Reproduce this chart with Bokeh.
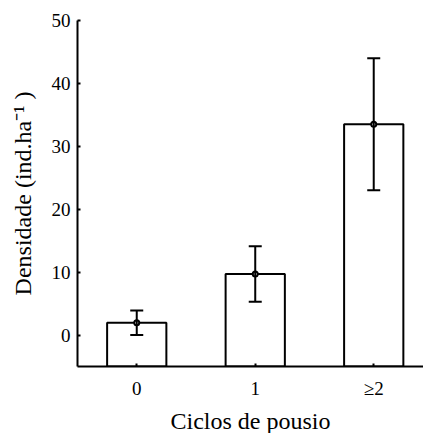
from bokeh.plotting import figure
from bokeh.models import Range1d, FixedTicker, Whisker, ColumnDataSource, TeeHead
from bokeh.embed import file_html
from bokeh.resources import INLINE

categories = ["0", "1", "≥2"]
means = [1.95, 9.7, 33.5]
errors = [1.95, 4.4, 10.5]
y_ticks = [0, 10, 20, 30, 40, 50]

xs = list(range(1, len(categories) + 1))
src = ColumnDataSource(dict(
    x=xs, top=means,
    upper=[m + e for m, e in zip(means, errors)],
    lower=[m - e for m, e in zip(means, errors)],
))

FONT = "Liberation Serif"

p = figure(frame_width=346, frame_height=346, output_backend="svg", toolbar_location=None,
           x_range=Range1d(0.5, 3.42), y_range=Range1d(-5, 50),
           min_border_left=77, min_border_right=0, min_border_top=20, min_border_bottom=60)
p.outline_line_color = None
p.grid.visible = False
p.background_fill_color = "white"

p.vbar(x="x", top="top", bottom=-5, width=0.5, source=src,
       fill_color="white", line_color="black", line_width=2)

w = Whisker(base="x", upper="upper", lower="lower", source=src,
            line_color="black", line_width=2, level="overlay",
            upper_head=TeeHead(size=13, line_width=2, line_color="black"),
            lower_head=TeeHead(size=13, line_width=2, line_color="black"))
p.add_layout(w)

p.scatter(x="x", y="top", source=src, size=5, fill_color="white",
          line_color="black", line_width=2, level="overlay")

p.xaxis.ticker = FixedTicker(ticks=xs)
p.xaxis.major_label_overrides = {x: c for x, c in zip(xs, categories)}
p.yaxis.ticker = FixedTicker(ticks=y_ticks)

for ax in (p.xaxis[0], p.yaxis[0]):
    ax.axis_line_width = 2
    ax.axis_line_color = "black"
    ax.major_tick_in = 3
    ax.major_tick_out = 0
    ax.major_tick_line_width = 2
    ax.minor_tick_line_color = None
    ax.major_label_text_font = FONT
    ax.major_label_text_font_size = "19px"
    ax.major_label_text_color = "black"
    ax.axis_label_text_font = FONT
    ax.axis_label_text_font_size = "24px"
    ax.axis_label_text_font_style = "normal"
    ax.axis_label_text_color = "black"

p.xaxis.axis_label = "Ciclos de pousio"
p.yaxis.axis_label = "Densidade (ind.ha⁻¹ )"
p.xaxis.major_label_standoff = 11
p.xaxis.axis_label_standoff = 6
p.yaxis.major_label_standoff = 7
p.yaxis.axis_label_standoff = 13

open("out.html", "w").write(file_html(p, INLINE))
